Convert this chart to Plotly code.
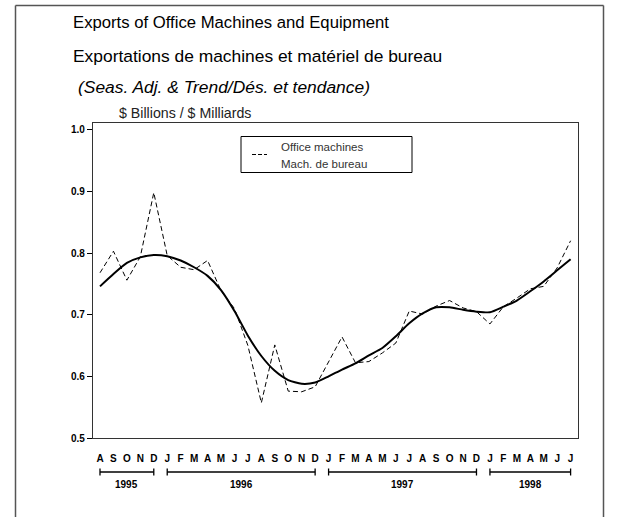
import plotly.graph_objects as go

# ---- data ----
month_labels = ['A', 'S', 'O', 'N', 'D',
                'J', 'F', 'M', 'A', 'M', 'J', 'J', 'A', 'S', 'O', 'N', 'D',
                'J', 'F', 'M', 'A', 'M', 'J', 'J', 'A', 'S', 'O', 'N', 'D',
                'J', 'F', 'M', 'A', 'M', 'J', 'J']
years = ['1995', '1996', '1997', '1998']
year_month_counts = [5, 12, 12, 7]

office_machines = [0.768, 0.803, 0.756, 0.794, 0.898, 0.796, 0.777, 0.773, 0.788,
                   0.739, 0.710, 0.650, 0.557, 0.651, 0.576, 0.575, 0.583, 0.623,
                   0.664, 0.622, 0.624, 0.638, 0.654, 0.706, 0.701, 0.714, 0.723,
                   0.711, 0.705, 0.685, 0.713, 0.727, 0.742, 0.746, 0.776, 0.820]
trend = [0.746, 0.766, 0.784, 0.793, 0.797, 0.795, 0.788, 0.777, 0.763,
         0.740, 0.706, 0.666, 0.633, 0.609, 0.594, 0.588, 0.590, 0.600,
         0.611, 0.621, 0.634, 0.646, 0.665, 0.686, 0.702, 0.712, 0.712,
         0.708, 0.705, 0.704, 0.713, 0.723, 0.738, 0.754, 0.772, 0.790]
y_ticks = [0.5, 0.6, 0.7, 0.8, 0.9, 1.0]

x = list(range(len(month_labels)))

# ---- layout geometry (page pixels; body margin removed via post_script) ----
W, H = 618, 517
PLOT_L, PLOT_R, PLOT_T, PLOT_B = 93, 578, 123, 438
L, T = PLOT_L, PLOT_T
R, B = W - PLOT_R, H - PLOT_B
PW, PH = PLOT_R - PLOT_L, PLOT_B - PLOT_T


def px(xpage):
    return (xpage - PLOT_L) / PW


def py(ypage):
    return (PLOT_B - ypage) / PH


FONT = "Liberation Sans"

fig = go.Figure()
fig.add_trace(go.Scatter(x=x, y=office_machines, mode='lines',
                         line=dict(color='black', width=1, dash='5px,3px'),
                         showlegend=False, hoverinfo='skip'))
fig.add_trace(go.Scatter(x=x, y=trend, mode='lines',
                         line=dict(color='black', width=2, shape='spline', smoothing=0.6),
                         showlegend=False, hoverinfo='skip'))

shapes = []
annotations = []

# year brackets
start = 0
for yr, n in zip(years, year_month_counts):
    s, e = start, start + n - 1
    yb = py(472)
    cap = 3.5 / PH
    shapes.append(dict(type='line', xref='x', yref='paper', x0=s, x1=e, y0=yb, y1=yb,
                       line=dict(color='black', width=1.3)))
    for xe in (s, e):
        shapes.append(dict(type='line', xref='x', yref='paper', x0=xe, x1=xe,
                           y0=yb - cap, y1=yb + cap, line=dict(color='black', width=1.3)))
    annotations.append(dict(x=(s + e) / 2, y=py(484), xref='x', yref='paper',
                            text=yr, showarrow=False, xanchor='center', yanchor='middle',
                            font=dict(family=FONT, size=10, color='black', weight='bold')))
    start += n

# outer frame (drawn as separate lines)
frame_line = dict(color='#555555', width=1.5)
shapes.append(dict(type='line', xref='paper', yref='paper',
                   x0=px(15.5), x1=px(603.5), y0=py(5.5), y1=py(5.5), line=frame_line))
shapes.append(dict(type='line', xref='paper', yref='paper',
                   x0=px(15.5), x1=px(15.5), y0=py(5.5), y1=py(540), line=frame_line))
shapes.append(dict(type='line', xref='paper', yref='paper',
                   x0=px(603.5), x1=px(603.5), y0=py(5.5), y1=py(540), line=frame_line))

# legend box
shapes.append(dict(type='rect', xref='paper', yref='paper',
                   x0=px(241), x1=px(412), y0=py(172.5), y1=py(136.5),
                   line=dict(color='black', width=1), fillcolor='white'))
shapes.append(dict(type='line', xref='paper', yref='paper',
                   x0=px(252), x1=px(267), y0=py(154.5), y1=py(154.5),
                   line=dict(color='black', width=1, dash='4px,2px')))
annotations.append(dict(x=px(279), y=py(146.5), xref='paper', yref='paper',
                        text='Office machines', showarrow=False, xanchor='left', yanchor='middle',
                        font=dict(family=FONT, size=11.5, color='#333333')))
annotations.append(dict(x=px(279), y=py(163.5), xref='paper', yref='paper',
                        text='Mach. de bureau', showarrow=False, xanchor='left', yanchor='middle',
                        font=dict(family=FONT, size=11.5, color='#333333')))

# titles
annotations.append(dict(x=px(71), y=py(22), xref='paper', yref='paper',
                        text='Exports of Office Machines and Equipment', showarrow=False,
                        xanchor='left', yanchor='middle',
                        font=dict(family=FONT, size=16.7, color='black')))
annotations.append(dict(x=px(71), y=py(56), xref='paper', yref='paper',
                        text='Exportations de machines et matériel de bureau', showarrow=False,
                        xanchor='left', yanchor='middle',
                        font=dict(family=FONT, size=17.4, color='black')))
annotations.append(dict(x=px(76), y=py(87), xref='paper', yref='paper',
                        text='<i>(Seas. Adj. &amp; Trend/Dés. et tendance)</i>', showarrow=False,
                        xanchor='left', yanchor='middle',
                        font=dict(family=FONT, size=17.4, color='black')))
annotations.append(dict(x=px(117), y=py(113), xref='paper', yref='paper',
                        text='$ Billions / $ Milliards', showarrow=False,
                        xanchor='left', yanchor='middle',
                        font=dict(family=FONT, size=14.2, color='#222222')))

fig.update_layout(
    width=W, height=H,
    margin=dict(l=L, r=R, t=T, b=B, pad=0),
    paper_bgcolor='white', plot_bgcolor='white',
    shapes=shapes, annotations=annotations,
    showlegend=False,
    xaxis=dict(range=[-0.52, 35.55], tickmode='array', tickvals=x, ticktext=month_labels,
               showgrid=False, zeroline=False, ticks='', showline=True, mirror=True,
               linecolor='#333333', linewidth=1.2, ticklabelstandoff=11,
               tickfont=dict(family=FONT, size=10, color='black', weight='bold')),
    yaxis=dict(range=[0.5, 1.011], tickmode='array', tickvals=y_ticks,
               ticktext=[f'{v:.1f}' for v in y_ticks],
               showgrid=False, zeroline=False, ticks='outside', ticklen=5, tickwidth=1,
               tickcolor='black', showline=True, mirror=True,
               linecolor='#333333', linewidth=1.2,
               tickfont=dict(family=FONT, size=10, color='black', weight='bold')),
)

fig.write_html("out.html", config={'displayModeBar': False},
               post_script="document.body.style.margin='0';document.body.style.overflow='hidden';")
